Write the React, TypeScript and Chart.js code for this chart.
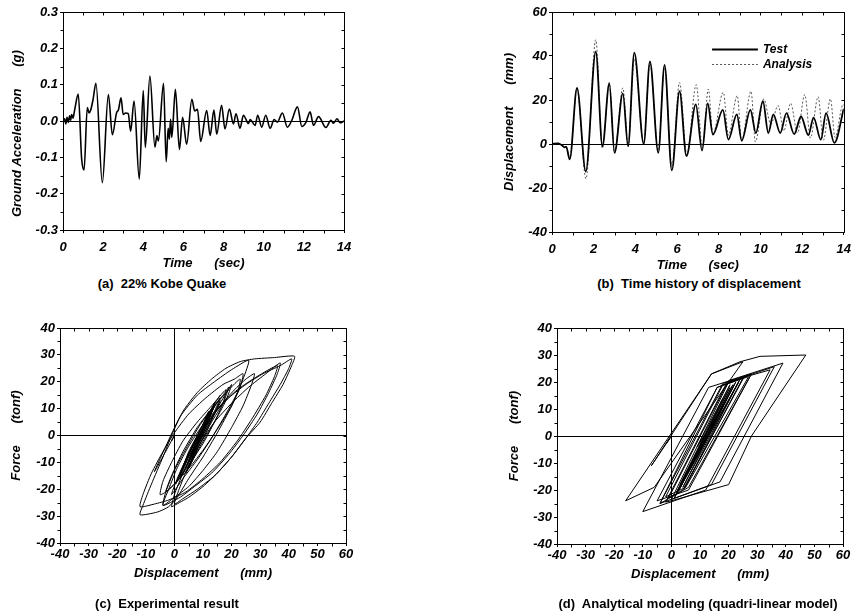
import React, { useEffect, useRef } from 'react';
import { Chart, registerables } from 'chart.js';

Chart.register(...registerables);

// ---------------- DATA ----------------
// (a) ground acceleration (g) vs time (sec)
const accTime = [0.00, 0.08, 0.14, 0.20, 0.26, 0.33, 0.38, 0.43, 0.50, 0.58, 0.76, 0.93, 1.05, 1.21, 1.30, 1.38, 1.50, 1.64, 1.96, 2.26, 2.46, 2.67, 2.76, 2.89, 3.00, 3.12, 3.25, 3.37, 3.54, 3.80, 4.00, 4.10, 4.33, 4.58, 4.68, 4.75, 5.01, 5.14, 5.24, 5.30, 5.36, 5.42, 5.60, 5.80, 5.96, 6.16, 6.42, 6.56, 6.70, 6.86, 7.16, 7.33, 7.52, 7.66, 7.90, 8.07, 8.29, 8.49, 8.62, 8.82, 8.99, 9.24, 9.32, 9.57, 9.70, 9.90, 10.10, 10.32, 10.52, 10.68, 10.93, 11.18, 11.40, 11.68, 11.90, 12.11, 12.31, 12.48, 12.73, 13.10, 13.35, 13.48, 13.65, 13.81, 14.00];
const accG = [0.000, 0.006, -0.008, 0.010, -0.004, 0.014, 0.002, 0.018, 0.008, 0.030, 0.074, -0.105, -0.135, 0.037, 0.022, 0.030, 0.060, 0.104, -0.170, 0.073, -0.038, 0.023, 0.030, 0.064, 0.018, 0.022, 0.020, -0.028, 0.055, -0.160, 0.084, -0.073, 0.124, -0.072, -0.040, -0.055, 0.104, -0.112, -0.020, -0.050, 0.005, -0.045, 0.087, -0.078, 0.010, -0.064, 0.060, 0.028, 0.032, -0.056, 0.029, -0.040, 0.030, -0.036, 0.043, -0.022, 0.033, -0.008, 0.020, -0.020, 0.016, -0.007, 0.004, -0.012, 0.016, -0.017, 0.016, -0.020, 0.004, -0.003, 0.022, -0.017, 0.002, 0.039, -0.015, -0.003, 0.025, -0.012, 0.012, -0.018, 0.002, -0.006, 0.006, -0.005, 0.000];

// (b) displacement time history (mm)
const testTime = [0.00, 0.30, 0.50, 0.60, 0.68, 0.85, 1.20, 1.62, 2.10, 2.42, 2.75, 3.00, 3.40, 3.65, 3.95, 4.40, 4.70, 5.10, 5.40, 5.75, 6.12, 6.45, 6.90, 7.20, 7.47, 7.72, 8.20, 8.46, 8.87, 9.10, 9.52, 9.78, 10.12, 10.38, 10.62, 10.95, 11.25, 11.62, 11.95, 12.30, 12.55, 12.90, 13.15, 13.55, 14.00];
const testDisp = [0, 0.3, -0.8, -1.5, -1.2, -7.0, 25.5, -12.5, 42.0, -1.0, 27.5, -4.0, 23.0, -1.0, 41.5, 0.0, 37.5, -4.0, 36.0, -12.0, 24.0, -5.5, 18.0, -3.0, 18.5, 4.3, 15.5, 2.0, 13.5, 1.5, 15.5, 5.0, 19.5, 5.0, 13.5, 5.0, 14.0, 4.5, 12.5, 4.0, 12.0, 2.0, 14.0, 0.5, 16.0];
const anaTime = [0.00, 0.30, 0.50, 0.60, 0.68, 0.85, 1.20, 1.63, 2.10, 2.42, 2.75, 3.00, 3.40, 3.65, 3.95, 4.40, 4.70, 5.10, 5.40, 5.75, 6.12, 6.47, 6.92, 7.22, 7.50, 7.72, 8.22, 8.46, 8.89, 9.10, 9.55, 9.76, 10.16, 10.50, 10.85, 11.12, 11.45, 11.78, 12.13, 12.40, 12.77, 13.02, 13.36, 13.58, 13.97, 14.00];
const anaDisp = [0, 0.3, -0.8, -1.8, -1.5, -7.0, 25.0, -15.8, 47.4, -2.0, 28.0, -4.0, 25.5, -1.0, 38.5, 0.5, 36.5, -3.0, 34.5, -10.0, 28.0, -5.0, 27.0, -2.0, 25.0, 4.5, 23.5, 4.0, 22.0, 1.5, 24.0, 1.0, 20.5, 9.0, 17.5, 6.0, 18.5, 5.0, 22.5, 2.7, 21.5, 1.7, 20.5, 3.0, 18.0, 17.5];

// (c) experimental hysteresis: displacement (mm) / force (tonf)
const expDisp = [0, -1, 0, -7, -3, 2, 8, 14, 20, 26, 24, 20, 15, 10, 5, 1, -2, -6, -12, -11, -8, -4, -1, 3, 8, 13, 18, 23, 28, 35, 42, 41, 38, 34, 30, 25, 20, 15, 10, 5, 0, -1, 0, 3, 7, 11, 16, 21, 25, 28, 27, 24, 20, 15, 10, 5, 0, -4, -3, 0, 4, 9, 14, 19, 23, 22, 18, 13, 8, 3, -1, 1, 4, 8, 13, 19, 25, 31, 37, 41, 40, 37, 33, 29, 25, 20, 14, 8, 3, 0, 2, 5, 9, 14, 20, 26, 32, 37, 36, 33, 29, 24, 19, 13, 7, 2, -4, -2, 1, 5, 10, 16, 22, 29, 36, 35, 32, 27, 22, 16, 10, 4, -2, -7, -12, -11, -8, -4, 0, 5, 11, 17, 21, 24, 23, 20, 16, 11, 6, 1, -3, -5, -4, -1, 3, 8, 13, 18, 17, 14, 10, 5, 1, -3, -1, 3, 8, 13, 17, 19, 17, 13, 9, 6, 4, 7, 11, 14, 16, 14, 10, 6, 2, 5, 9, 12, 14, 12, 8, 4, 1, 4, 8, 12, 16, 14, 10, 7, 5, 8, 12, 16, 20, 18, 14, 9, 5, 8, 11, 13.5, 11, 8, 5, 8, 11, 14, 12, 8, 4.5, 7, 10, 12.5, 10, 7, 4, 7, 10, 12, 9, 5, 2, 5, 9, 14, 11, 6, 0.5, 4, 9, 13, 16];
const expForce = [0, -2, 0, -13.5, -4, 7, 15, 20, 24.5, 28, 21, 11, 1, -8, -16, -23, -26.5, -28.5, -29.5, -26, -18, -8, 0, 9, 16, 21, 25, 27.5, 28.5, 29, 29.5, 26, 19, 12, 5, -1, -8, -14, -19, -23, -26, -26.5, -22, -14, -5, 3, 11, 17, 21, 23, 19, 11, 3, -6, -13, -19, -23, -26, -21, -13, -5, 4, 11, 17, 21, 16, 8, -1, -9, -16, -22, -16, -9, -1, 7, 14, 19, 23, 26, 28.5, 25, 19, 12, 5, -1, -8, -15, -20, -23.5, -25.5, -19, -11, -3, 5, 12, 18, 23, 27, 23, 16, 8, 0, -7, -14, -19, -23, -26, -20, -12, -4, 4, 11, 17, 22, 26, 22, 15, 6, -2, -10, -16, -21, -24, -25.5, -26.5, -22, -14, -6, 1, 8, 14, 19, 21, 23, 18, 11, 4, -4, -11, -17, -21, -22, -17, -10, -2, 5, 11, 17, 12, 5, -3, -11, -17, -21, -15, -6, 3, 10, 15, 18, 12, 5, -3, -10, -14, -7, 1, 8, 13, 8, 0, -8, -16, -8, 0, 7, 12, 6, -2, -10, -17, -9, -1, 7, 14, 9, 1, -6, -12, -4, 4, 12, 19, 13, 5, -4, -12, -4, 3, 10, 4, -3, -10, -3, 4, 11, 6, -2, -11, -5, 2, 9, 3, -4, -12, -4, 3, 9, 2, -6, -15, -7, 2, 12, 5, -5, -18, -9, 2, 10, 15];

// (d) analytical (quadri-linear) hysteresis
const anaHystDisp = [0, -1.8, -0.5, -7, 14, 25, -6, -16, 14, 24, 31, 47, 28, 20, 0, -2, 19, 28, 6, -4, 16, 25.5, 4, -1, 20, 39, 17, 0, 20, 36, 14, -4, 18, 34.5, 12, -10, 13, 28, 6, -5, 16, 27, 5, -2, 18, 25, 4.5, 23.5, 4, 22, 1.5, 24, 1, 20.5, 9, 17.5, 6, 18.5, 5, 22.5, 2.7, 21.5, 1.7, 20.5, 3, 18];
const anaHystForce = [0, -2.8, -0.8, -11, 23, 27.5, -19, -24, 23, 27.5, 29.5, 30, 0, -18, -24, -24.5, 19, 23, -19, -25, 18, 22, -20, -23, 20.5, 27, -17, -23.5, 20, 25.7, -18, -25, 19.5, 24.5, -20, -28, 18, 23, -20, -24, 18, 22, -19, -22.5, 19, 21.5, -19.5, 20, -19, 19, -22, 21, -23, 19, -4, 10, -13, 12, -15, 20, -20, 19, -21, 18, -18, 14];

// tick values and labels
const accTicksY = [-0.3, -0.2, -0.1, 0, 0.1, 0.2, 0.3];
const accTickLabelsY = ['-0.3', '-0.2', '-0.1', '0.0', '0.1', '0.2', '0.3'];
const timeTicks = [0, 2, 4, 6, 8, 10, 12, 14];
const timeTickLabels = ['0', '2', '4', '6', '8', '10', '12', '14'];
const dispTicksY = [-40, -20, 0, 20, 40, 60];
const dispTickLabelsY = ['-40', '-20', '0', '20', '40', '60'];
const forceTicks = [-40, -30, -20, -10, 0, 10, 20, 30, 40];
const forceTickLabels = ['-40', '-30', '-20', '-10', '0', '10', '20', '30', '40'];
const hystDispTicks = [-40, -30, -20, -10, 0, 10, 20, 30, 40, 50, 60];
const hystDispTickLabels = ['-40', '-30', '-20', '-10', '0', '10', '20', '30', '40', '50', '60'];

const seriesLabels = ['Test', 'Analysis'];
const captions = [
  '(a)  22% Kobe Quake',
  '(b)  Time history of displacement',
  '(c)  Experimental result',
  '(d)  Analytical modeling (quadri-linear model)',
];

// ---------------- STYLE HELPERS ----------------
const FONT = '"Liberation Sans", Arial, Helvetica, sans-serif';
const tickFont = { family: FONT, size: 13, weight: 'bold', style: 'italic' };
const titleFont = { family: FONT, size: 13, weight: 'bold', style: 'italic' };

function axis(
  pos: 'x' | 'y', min: number, max: number, values: number[], labels: string[],
  title: string, box: number, tickPad: number, titlePad: number, zero: boolean,
) {
  return {
    type: 'linear',
    position: pos === 'x' ? 'bottom' : 'left',
    min, max,
    afterBuildTicks: (s: any) => { s.ticks = values.map((v) => ({ value: v })); },
    afterFit: (s: any) => { if (pos === 'x') s.height = box; else s.width = box; },
    ticks: {
      autoSkip: false, maxRotation: 0, minRotation: 0, padding: tickPad, color: '#000', font: tickFont,
      callback: (_v: any, i: number) => labels[i],
    },
    grid: {
      display: true, drawOnChartArea: zero, drawTicks: true, tickLength: 3, tickColor: '#000', lineWidth: 1,
      color: (c: any) => (c.tick && Math.abs(c.tick.value) < 1e-9 ? '#000' : 'rgba(0,0,0,0)'),
    },
    border: { display: true, color: '#000', width: 1 },
    title: {
      display: true, text: title, color: '#000', font: titleFont,
      padding: pos === 'x' ? { top: 0, bottom: titlePad } : { top: titlePad, bottom: 0 },
    },
  };
}

const framePlugin = {
  id: 'frame',
  afterDraw(chart: any) {
    const { ctx, chartArea: a } = chart;
    const xs = chart.scales.x;
    const ys = chart.scales.y;
    const mids = (s: any) => {
      const t = s.ticks.map((k: any) => k.value);
      const out: number[] = [];
      for (let i = 0; i < t.length - 1; i++) out.push((t[i] + t[i + 1]) / 2);
      return out;
    };
    const majX = xs.ticks.map((k: any) => k.value);
    const majY = ys.ticks.map((k: any) => k.value);
    const L = Math.round(a.left) + 0.5, R = Math.round(a.right) + 0.5;
    const T = Math.round(a.top) + 0.5, B = Math.round(a.bottom) + 0.5;
    ctx.save();
    ctx.strokeStyle = '#000';
    ctx.lineWidth = 1;
    ctx.beginPath();
    ctx.rect(L, T, R - L, B - T);
    for (const v of mids(xs)) { const p = Math.round(xs.getPixelForValue(v)) + 0.5; ctx.moveTo(p, B); ctx.lineTo(p, B + 3); }
    for (const v of mids(ys)) { const p = Math.round(ys.getPixelForValue(v)) + 0.5; ctx.moveTo(L, p); ctx.lineTo(L - 3, p); }
    for (const v of [...majY, ...mids(ys)]) { const p = Math.round(ys.getPixelForValue(v)) + 0.5; ctx.moveTo(R, p); ctx.lineTo(R - 3, p); }
    for (const v of [...majX, ...mids(xs)]) { const p = Math.round(xs.getPixelForValue(v)) + 0.5; ctx.moveTo(p, T); ctx.lineTo(p, T + 3); }
    ctx.stroke();
    ctx.restore();
  },
};

const inlineLegend = {
  id: 'inlineLegend',
  afterDraw(chart: any, _args: any, opts: any) {
    if (!opts || !opts.show) return;
    const { ctx } = chart;
    const xs = chart.scales.x;
    const ys = chart.scales.y;
    const x0 = xs.getPixelForValue(opts.x0);
    const x1 = xs.getPixelForValue(opts.x1);
    const xt = xs.getPixelForValue(opts.xt);
    chart.data.datasets.forEach((ds: any, i: number) => {
      const y = Math.round(ys.getPixelForValue(opts.ys[i])) + 0.5;
      ctx.save();
      ctx.strokeStyle = ds.borderColor;
      ctx.lineWidth = ds.borderWidth;
      ctx.setLineDash(ds.borderDash || []);
      ctx.beginPath();
      ctx.moveTo(x0, y);
      ctx.lineTo(x1, y);
      ctx.stroke();
      ctx.setLineDash([]);
      ctx.fillStyle = '#000';
      ctx.font = `italic bold 12px ${FONT}`;
      ctx.textBaseline = 'middle';
      ctx.textAlign = 'left';
      ctx.fillText(ds.label, xt, y);
      ctx.restore();
    });
  },
};

function baseOptions(padding: any, x: any, y: any, legend?: any) {
  return {
    responsive: false,
    animation: false,
    devicePixelRatio: 1,
    layout: { padding },
    elements: { point: { radius: 0 } },
    plugins: {
      legend: { display: false },
      tooltip: { enabled: false },
      inlineLegend: legend || { show: false },
    },
    scales: { x, y },
  };
}

const xy = (xsArr: number[], ysArr: number[]) => xsArr.map((v, i) => ({ x: v, y: ysArr[i] }));

// ---------------- CONFIGS ----------------
const cfgA: any = {
  type: 'line',
  data: {
    datasets: [{
      label: 'Ground acceleration', data: xy(accTime, accG), borderColor: '#000', borderWidth: 1.6,
      pointRadius: 0, cubicInterpolationMode: 'monotone', fill: false,
    }],
  },
  options: baseOptions(
    { left: 0, right: 85, top: 12, bottom: 5 },
    axis('x', 0, 14, timeTicks, timeTickLabels, 'Time      (sec)', 41, 7, 0, false),
    axis('y', -0.3, 0.3, accTicksY, accTickLabelsY, 'Ground Acceleration      (g)       ', 63, 2, 10, true),
  ),
  plugins: [framePlugin, inlineLegend],
};

const cfgB: any = {
  type: 'line',
  data: {
    datasets: [
      {
        label: seriesLabels[0], data: xy(testTime, testDisp), borderColor: '#000', borderWidth: 1.8,
        pointRadius: 0, cubicInterpolationMode: 'monotone', fill: false,
      },
      {
        label: seriesLabels[1], data: xy(anaTime, anaDisp), borderColor: '#555', borderWidth: 1,
        borderDash: [2, 2], pointRadius: 0, cubicInterpolationMode: 'monotone', fill: false,
      },
    ],
  },
  options: baseOptions(
    { left: 60, right: 14, top: 12, bottom: 3 },
    axis('x', 0, 14, timeTicks, timeTickLabels, 'Time      (sec)', 41, 7, 0, false),
    axis('y', -40, 60, dispTicksY, dispTickLabelsY, 'Displacement      (mm)', 63, 2, 13, true),
    { show: true, x0: 7.68, x1: 9.88, xt: 10.12, ys: [43.3, 36.5] },
  ),
  plugins: [framePlugin, inlineLegend],
};

const cfgC: any = {
  type: 'scatter',
  data: {
    datasets: [{
      label: 'Experimental', data: xy(expDisp, expForce), borderColor: '#000', borderWidth: 1,
      showLine: true, tension: 0.2, pointRadius: 0, fill: false,
    }],
  },
  options: baseOptions(
    { left: 0, right: 83, top: 28, bottom: 32 },
    axis('x', -40, 60, hystDispTicks, hystDispTickLabels, 'Displacement      (mm)', 38, 1, 0, true),
    axis('y', -40, 40, forceTicks, forceTickLabels, 'Force      (tonf)', 60, 2, 9, true),
  ),
  plugins: [framePlugin, inlineLegend],
};

const cfgD: any = {
  type: 'scatter',
  data: {
    datasets: [{
      label: 'Analytical', data: xy(anaHystDisp, anaHystForce), borderColor: '#000', borderWidth: 1,
      showLine: true, tension: 0, pointRadius: 0, fill: false,
    }],
  },
  options: baseOptions(
    { left: 65, right: 15, top: 28, bottom: 31 },
    axis('x', -40, 60, hystDispTicks, hystDispTickLabels, 'Displacement      (mm)', 38, 1, 0, true),
    axis('y', -40, 40, forceTicks, forceTickLabels, 'Force      (tonf)', 63, 2, 13, true),
  ),
  plugins: [framePlugin, inlineLegend],
};

// ---------------- COMPONENTS ----------------
function ChartCanvas({ config, left, top, width, height }: any) {
  const ref = useRef<HTMLCanvasElement>(null);
  useEffect(() => {
    const chart = new Chart(ref.current as HTMLCanvasElement, config);
    return () => chart.destroy();
  }, [config]);
  return (
    <canvas
      ref={ref}
      width={width}
      height={height}
      style={{ position: 'absolute', left, top, width, height, display: 'block' }}
    />
  );
}

function Caption({ text, cx, cy }: { text: string; cx: number; cy: number }) {
  return (
    <div
      style={{
        position: 'absolute', left: cx, top: cy - 8, transform: 'translateX(-50%)',
        font: `bold 13px ${FONT}`, lineHeight: '16px', whiteSpace: 'pre', color: '#000',
      }}
    >
      {text}
    </div>
  );
}

export default function App() {
  return (
    <div style={{ position: 'absolute', left: 0, top: 0, width: 858, height: 613, background: '#fff', overflow: 'hidden' }}>
      <ChartCanvas config={cfgA} left={0} top={0} width={429} height={276} />
      <ChartCanvas config={cfgB} left={429} top={0} width={429} height={276} />
      <ChartCanvas config={cfgC} left={0} top={300} width={429} height={313} />
      <ChartCanvas config={cfgD} left={429} top={300} width={429} height={313} />
      <Caption text={captions[0]} cx={162} cy={284} />
      <Caption text={captions[1]} cx={699} cy={284} />
      <Caption text={captions[2]} cx={167} cy={604} />
      <Caption text={captions[3]} cx={698} cy={604} />
    </div>
  );
}
